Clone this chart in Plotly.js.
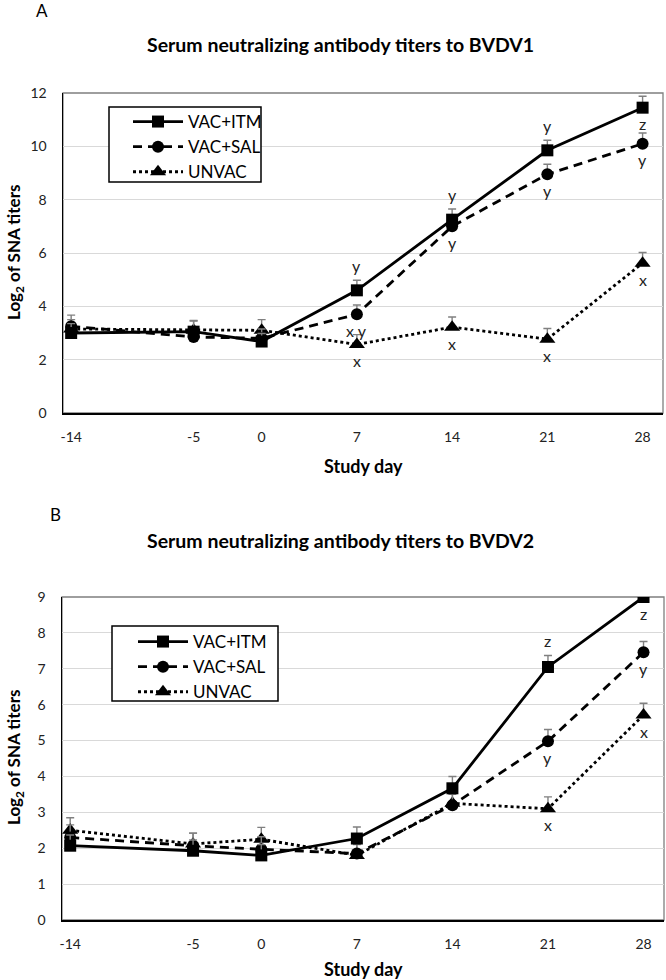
<!DOCTYPE html>
<html>
<head>
<meta charset="utf-8">
<script src="https://cdn.plot.ly/plotly-3.0.1.min.js"></script>
<style>html,body{margin:0;padding:0;background:#fff;}#chart{width:666px;height:980px;}</style>
</head>
<body>
<div id="chart"></div>
<script>
// ---- data ----
const days = [-14, -5, 0, 7, 14, 21, 28];
const seriesNames = ["VAC+ITM", "VAC+SAL", "UNVAC"];

// Panel A: BVDV1
const itmA = [3.0, 3.05, 2.68, 4.6, 7.25, 9.85, 11.45];
const itmAerr = [0.35, 0.42, 0.3, 0.38, 0.4, 0.38, 0.43];
const salA = [3.25, 2.85, 2.8, 3.7, 7.0, 8.95, 10.1];
const salAerr = [0.42, 0.35, 0.35, 0.35, 0.38, 0.38, 0.4];
const unvA = [3.15, 3.1, 3.1, 2.57, 3.22, 2.77, 5.62];
const unvAerr = [0.35, 0.35, 0.4, 0.37, 0.38, 0.4, 0.4];

// Panel B: BVDV2
const itmB = [2.07, 1.93, 1.8, 2.27, 3.67, 7.05, 9.0];
const itmBerr = [0.3, 0.3, 0.3, 0.32, 0.33, 0.32, 0.32];
const salB = [2.3, 2.07, 1.97, 1.85, 3.2, 4.98, 7.46];
const salBerr = [0.35, 0.35, 0.35, 0.3, 0.3, 0.33, 0.3];
const unvB = [2.5, 2.12, 2.25, 1.8, 3.25, 3.1, 5.71];
const unvBerr = [0.35, 0.3, 0.33, 0.3, 0.3, 0.33, 0.33];

// significance letters ('' = none) and where they sit
const lettersA_itm = ["", "", "", "y", "y", "y", "z"];
const placeA_itm   = ["", "", "", "above", "above", "above", "below"];
const lettersA_sal = ["", "", "", "x y", "y", "y", "y"];
const placeA_sal   = ["", "", "", "below", "below", "below", "below"];
const lettersA_unv = ["", "", "", "x", "x", "x", "x"];
const placeA_unv   = ["", "", "", "below", "below", "below", "below"];

const lettersB_itm = ["", "", "", "", "", "z", "z"];
const placeB_itm   = ["", "", "", "", "", "above", "below"];
const lettersB_sal = ["", "", "", "", "", "y", "y"];
const placeB_sal   = ["", "", "", "", "", "below", "below"];
const lettersB_unv = ["", "", "", "", "", "x", "x"];
const placeB_unv   = ["", "", "", "", "", "below", "below"];

const titleA = "Serum neutralizing antibody titers to BVDV1";
const titleB = "Serum neutralizing antibody titers to BVDV2";
const xTitle = "Study day";
const yTitle = "Log<sub>2</sub> of SNA titers";

// ---- styling ----
const W = 666, H = 980;
const FONT = "Lato, 'Open Sans', sans-serif";
const px = v => v / W;
const py = v => 1 - v / H;

const styles = [
  {dash: "solid", symbol: "square", size: 12},
  {dash: "9px,6px", symbol: "circle", size: 12},
  {dash: "dot", symbol: "triangle-up", size: 14}
];

function mk(name, y, err, idx, xa, ya, leg) {
  const s = styles[idx];
  return {
    type: "scatter", mode: "lines+markers", name: name,
    x: days, y: y, xaxis: xa, yaxis: ya, legend: leg, legendrank: idx + 1,
    line: {color: "#000", width: 2.8, dash: s.dash},
    marker: {color: "#000", symbol: s.symbol, size: s.size},
    error_y: {type: "data", symmetric: false, array: err, arrayminus: err.map(() => 0),
              color: "#808080", thickness: 1.4, width: 4},
    hoverinfo: "x+y"
  };
}

// drawing order: UNVAC underneath, ITM on top
const traces = [
  mk(seriesNames[2], unvA, unvAerr, 2, "x", "y", "legend"),
  mk(seriesNames[1], salA, salAerr, 1, "x", "y", "legend"),
  mk(seriesNames[0], itmA, itmAerr, 0, "x", "y", "legend"),
  mk(seriesNames[2], unvB, unvBerr, 2, "x2", "y2", "legend2"),
  mk(seriesNames[1], salB, salBerr, 1, "x2", "y2", "legend2"),
  mk(seriesNames[0], itmB, itmBerr, 0, "x2", "y2", "legend2")
];

const annotations = [];
function addLetters(vals, errs, letters, places, xr, yr) {
  for (let i = 0; i < days.length; i++) {
    if (!letters[i]) continue;
    const above = places[i] === "above";
    annotations.push({
      xref: xr, yref: yr, x: days[i], y: above ? vals[i] + errs[i] : vals[i],
      yshift: above ? 15 : -16, text: letters[i], showarrow: false,
      xanchor: "center", yanchor: "middle",
      font: {family: FONT, size: 16, color: "#222"}
    });
  }
}
addLetters(itmA, itmAerr, lettersA_itm, placeA_itm, "x", "y");
addLetters(salA, salAerr, lettersA_sal, placeA_sal, "x", "y");
addLetters(unvA, unvAerr, lettersA_unv, placeA_unv, "x", "y");
addLetters(itmB, itmBerr, lettersB_itm, placeB_itm, "x2", "y2");
addLetters(salB, salBerr, lettersB_sal, placeB_sal, "x2", "y2");
addLetters(unvB, unvBerr, lettersB_unv, placeB_unv, "x2", "y2");

function txt(text, x, y, size, bold, angle) {
  return {xref: "paper", yref: "paper", x: px(x), y: py(y), text: bold ? "<b>" + text + "</b>" : text,
          showarrow: false, xanchor: "center", yanchor: "middle", textangle: angle || 0,
          font: {family: FONT, size: size, color: "#000"}};
}
annotations.push(txt("A", 42, 10, 17, false));
annotations.push(txt(titleA, 340, 45, 19.5, true));
annotations.push(txt(xTitle, 363, 466, 18, true));
annotations.push(txt(yTitle, 15, 253, 17, true, -90));
annotations.push(txt("B", 55, 514, 17, false));
annotations.push(txt(titleB, 340, 540, 19.5, true));
annotations.push(txt(xTitle, 363, 969, 18, true));
annotations.push(txt(yTitle, 15, 758, 17, true, -90));

const xCommon = {
  type: "linear", range: [-14.6, 29.5], tickmode: "array", tickvals: days,
  ticktext: days.map(String), showgrid: false, zeroline: false,
  showline: true, linecolor: "#000", linewidth: 1.5, ticks: "",
  ticklabelstandoff: 11,
  tickfont: {family: FONT, size: 14, color: "#222"}, fixedrange: true
};
const yCommon = {
  showgrid: true, gridcolor: "#d9d9d9", gridwidth: 1, zeroline: false,
  showline: true, linecolor: "#000", linewidth: 1.5, ticks: "",
  ticklabelstandoff: 12,
  tickfont: {family: FONT, size: 14, color: "#222"}, fixedrange: true
};

const legCommon = {
  bgcolor: "rgba(0,0,0,0)", borderwidth: 0,
  font: {family: FONT, size: 17, color: "#000"},
  traceorder: "normal", itemwidth: 50,
  xanchor: "left", yanchor: "top", xref: "paper", yref: "paper"
};

const frame = (xr, yr) => ({type: "rect", xref: xr + " domain", yref: yr + " domain",
  x0: 0, x1: 1, y0: 0, y1: 1, line: {color: "#7f7f7f", width: 1.3}, layer: "below"});
const legBox = (x0, y0, x1, y1) => ({type: "rect", xref: "paper", yref: "paper",
  x0: px(x0), x1: px(x1), y0: py(y1), y1: py(y0), fillcolor: "#fff",
  line: {color: "#000", width: 1.5}, layer: "above"});

const layout = {
  width: W, height: H, margin: {l: 0, r: 0, t: 0, b: 0},
  paper_bgcolor: "#fff", plot_bgcolor: "#fff", showlegend: true,
  xaxis: Object.assign({}, xCommon, {domain: [px(63), px(663)], anchor: "y"}),
  yaxis: Object.assign({}, yCommon, {domain: [py(413), py(93)], range: [0, 12], dtick: 2, anchor: "x"}),
  xaxis2: Object.assign({}, xCommon, {domain: [px(62), px(664)], anchor: "y2"}),
  yaxis2: Object.assign({}, yCommon, {domain: [py(920), py(597)], range: [0, 9], dtick: 1, anchor: "x2"}),
  legend: Object.assign({}, legCommon, {x: px(128), y: py(104)}),
  legend2: Object.assign({}, legCommon, {x: px(133), y: py(624)}),
  shapes: [frame("x", "y"), frame("x2", "y2"), legBox(109, 107, 261, 182), legBox(112, 626, 278, 701)],
  annotations: annotations
};

Plotly.newPlot("chart", traces, layout, {displayModeBar: false, staticPlot: true});
</script>
</body>
</html>
